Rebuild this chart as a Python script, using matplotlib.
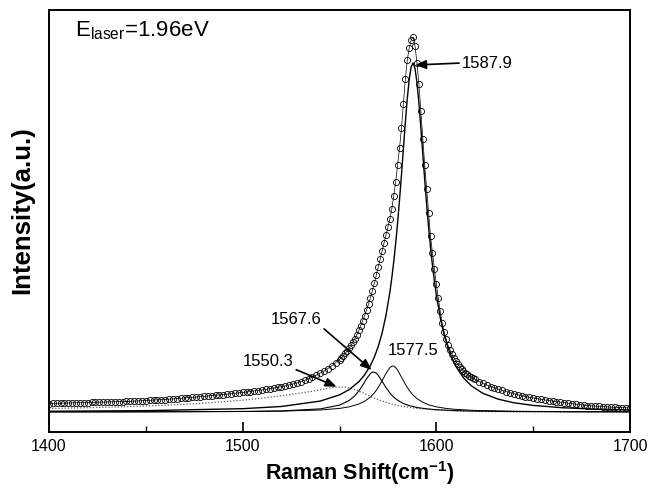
import numpy as np
import matplotlib
matplotlib.use("Agg")
import matplotlib.pyplot as plt

plt.rcParams['font.family'] = 'Liberation Sans'
plt.rcParams['mathtext.fontset'] = 'custom'
plt.rcParams['mathtext.rm'] = 'Liberation Sans'
plt.rcParams['mathtext.bf'] = 'Liberation Sans:bold'

# measured spectrum (open circles), 2 cm-1 steps in the tails, 1 cm-1 around the G band
raman_shift = np.concatenate([np.arange(1400, 1550, 2),
                              np.arange(1550, 1621, 1),
                              np.arange(1622, 1701, 2)])
intensity = [
    8.5, 8.6, 8.7, 8.8, 8.9, 9.0, 9.1, 9.2, 9.3, 9.4,
    9.5, 9.6, 9.7, 9.8, 9.9, 10.0, 10.1, 10.2, 10.4, 10.5,
    10.6, 10.7, 10.9, 11.1, 11.3, 11.5, 11.7, 11.9, 12.1, 12.3,
    12.5, 12.8, 13.1, 13.4, 13.7, 14.0, 14.3, 14.7, 15.0, 15.3,
    15.7, 16.0, 16.4, 16.8, 17.1, 17.5, 17.9, 18.3, 18.8, 19.2,
    19.6, 20.0, 20.5, 21.0, 21.5, 22.0, 22.6, 23.2, 23.9, 24.6,
    25.3, 26.1, 27.0, 28.0, 29.0, 30.3, 31.7, 33.2, 34.9, 36.8,
    38.9, 41.1, 43.5, 46.2, 49.3,
    52.5, 54.5, 56.5, 58.8, 61.2, 63.8, 66.8, 70.0, 73.5, 77.5,
    82.0, 86.5, 91.5, 96.5, 102.0, 108.0, 114.5, 121.5, 129.0, 137.0,
    145.0, 153.0, 161.0, 169.0, 177.0, 185.0, 193.0, 203.0, 216.0, 230.0,
    247.0, 264.0, 284.0, 308.0, 333.0, 352.0, 364.0, 372.0, 375.0, 366.0,
    349.0, 328.0, 301.0, 273.0, 247.0, 223.0, 199.0, 176.0, 159.0, 143.0,
    128.0, 114.0, 101.0, 89.0, 80.0, 73.0, 67.0, 62.0, 58.0, 54.5,
    51.0, 48.0, 45.5, 43.3, 41.3, 39.5, 37.9, 36.4, 35.0, 33.8,
    32.6,
    30.5, 28.7, 27.0, 25.5, 24.1, 22.8, 21.6, 20.5, 19.3, 18.2,
    17.2, 16.3, 15.5, 14.7, 14.0, 13.3, 12.7, 12.1, 11.5, 10.9,
    10.3, 9.8, 9.3, 8.8, 8.3, 7.8, 7.3, 6.9, 6.5, 6.2,
    5.9, 5.6, 5.3, 5.1, 4.9, 4.7, 4.5, 4.3, 4.1, 4.0,
]

# fitted components
main_x = [1400, 1450, 1500, 1520, 1540, 1550, 1555, 1560, 1563, 1566,
          1568, 1570, 1572, 1574, 1576, 1577, 1578, 1579, 1580, 1581,
          1582, 1583, 1584, 1585, 1586, 1587, 1588, 1589, 1590, 1591,
          1592, 1593, 1594, 1595, 1596, 1597, 1598, 1599, 1600, 1602,
          1604, 1606, 1608, 1610, 1614, 1618, 1624, 1632, 1640, 1650,
          1665, 1680, 1700]
main_y = [0.73, 1.35, 3.31, 5.51, 10.9, 17.1, 22.4, 30.3, 37.2, 46.6,
          55.0, 65.5, 79.0, 96.7, 119.7, 134.0, 150.1, 168.5, 189.3, 212.3,
          237.3, 263.5, 289.5, 313.4, 332.8, 345.2, 349.0, 343.4, 329.4, 308.9,
          284.4, 258.2, 232.2, 207.5, 184.9, 164.6, 146.7, 130.9, 117.1, 94.6,
          77.5, 64.3, 54.0, 45.9, 34.2, 26.3, 18.7, 12.8, 9.26, 6.57,
          4.29, 3.02, 2.04]

p1577_x = [1400, 1450, 1500, 1520, 1540, 1550, 1555, 1560, 1563, 1566,
           1568, 1570, 1572, 1574, 1576, 1577, 1577.5, 1578, 1579, 1580,
           1582, 1584, 1586, 1588, 1590, 1593, 1596, 1600, 1605, 1610,
           1620, 1640, 1670, 1700]
p1577_y = [0.09, 0.18, 0.49, 0.87, 2.0, 3.59, 5.16, 7.95, 10.7, 15.0,
           19.1, 24.5, 31.2, 38.6, 44.4, 45.8, 46.0, 45.8, 44.4, 41.9,
           34.9, 27.7, 21.6, 16.9, 13.4, 9.7, 7.25, 5.16, 3.59, 2.63,
           1.57, 0.74, 0.34, 0.20]

p1567_x = [1400, 1450, 1500, 1520, 1540, 1550, 1555, 1558, 1560, 1562,
           1564, 1566, 1567, 1568, 1569, 1570, 1572, 1574, 1576, 1578,
           1580, 1583, 1586, 1590, 1595, 1600, 1610, 1620, 1640, 1670, 1700]
p1567_y = [0.09, 0.18, 0.55, 1.10, 3.10, 6.85, 11.5, 16.4, 21.0, 26.8,
           33.3, 38.5, 39.8, 39.9, 38.8, 36.7, 30.7, 24.4, 19.0, 14.9,
           11.8, 8.5, 6.36, 4.52, 3.15, 2.30, 1.37, 0.91, 0.48, 0.24, 0.15]

bwf_x = [1400, 1420, 1440, 1460, 1480, 1500, 1510, 1520, 1530, 1536,
         1540, 1545, 1550, 1553, 1556, 1560, 1565, 1570, 1575, 1580,
         1585, 1590, 1600, 1610, 1620, 1640, 1670, 1700]
bwf_y = [3.5, 4.3, 5.3, 6.8, 8.8, 11.8, 13.8, 16.2, 19.0, 20.8,
         22.3, 24.0, 25.0, 24.8, 23.8, 21.0, 16.5, 12.3, 9.0, 6.6,
         4.9, 3.6, 2.0, 1.1, 0.6, 0.2, 0.05, 0.0]

W, H = 650, 490
fig = plt.figure(figsize=(6.5, 4.9), dpi=100)
ax = fig.add_axes([49 / W, 1 - 432 / H, (630 - 49) / W, (432 - 10) / H])

ax.plot(bwf_x, bwf_y, color='0.35', lw=0.9, ls=(0, (1, 1.5)))
ax.plot(p1567_x, p1567_y, color='black', lw=0.8)
ax.plot(p1577_x, p1577_y, color='black', lw=0.7)
ax.plot(main_x, main_y, color='black', lw=1.0)
ax.plot(raman_shift, intensity, color='black', lw=0.5, marker='o', ms=4.4,
        mfc='none', mec='black', mew=0.6)

ax.set_xlim(1400, 1700)
ax.set_ylim(-20, 402)
ax.set_xticks([1400, 1500, 1600, 1700])
ax.set_xticks([1450, 1550, 1650], minor=True)
ax.set_yticks([])
ax.tick_params(axis='x', which='major', direction='in', length=7, width=1.2,
               labelsize=11.5, pad=5, top=False)
ax.tick_params(axis='x', which='minor', direction='in', length=4.5, width=1.0, top=False)
for s in ax.spines.values():
    s.set_linewidth(1.4)

arrow = dict(arrowstyle='-|>,head_length=0.55,head_width=0.22', color='black',
             lw=1.2, shrinkA=0, shrinkB=0)
ax.annotate('1587.9', xy=(1589.0, 347), xytext=(1613.2, 349), fontsize=12,
            ha='left', va='center', arrowprops=dict(arrow, relpos=(0, 0.5)))
ax.text(1587.9, 62, '1577.5', fontsize=12, ha='center', va='center')
ax.annotate('1567.6', xy=(1566.6, 42), xytext=(1527.5, 93), fontsize=12,
            ha='center', va='center', arrowprops=dict(arrow, relpos=(1, 0)))
ax.annotate('1550.3', xy=(1548.5, 25.3), xytext=(1513.1, 51), fontsize=12,
            ha='center', va='center', arrowprops=dict(arrow, relpos=(1, 0)))

fig.text(75 / W, 1 - 36 / H, r'E$_{\rm laser}$=1.96eV', fontsize=16,
         ha='left', va='baseline')
fig.text(360 / W, 1 - 473 / H, r'Raman Shift(cm$^{\mathbf{-1}}$)', fontsize=15.5,
         fontweight='bold', ha='center', va='center')
fig.text(22 / W, 1 - 210 / H, 'Intensity(a.u.)', fontsize=18.5, fontweight='bold',
         rotation=90, ha='center', va='center')

fig.savefig('out.png', dpi=100)
